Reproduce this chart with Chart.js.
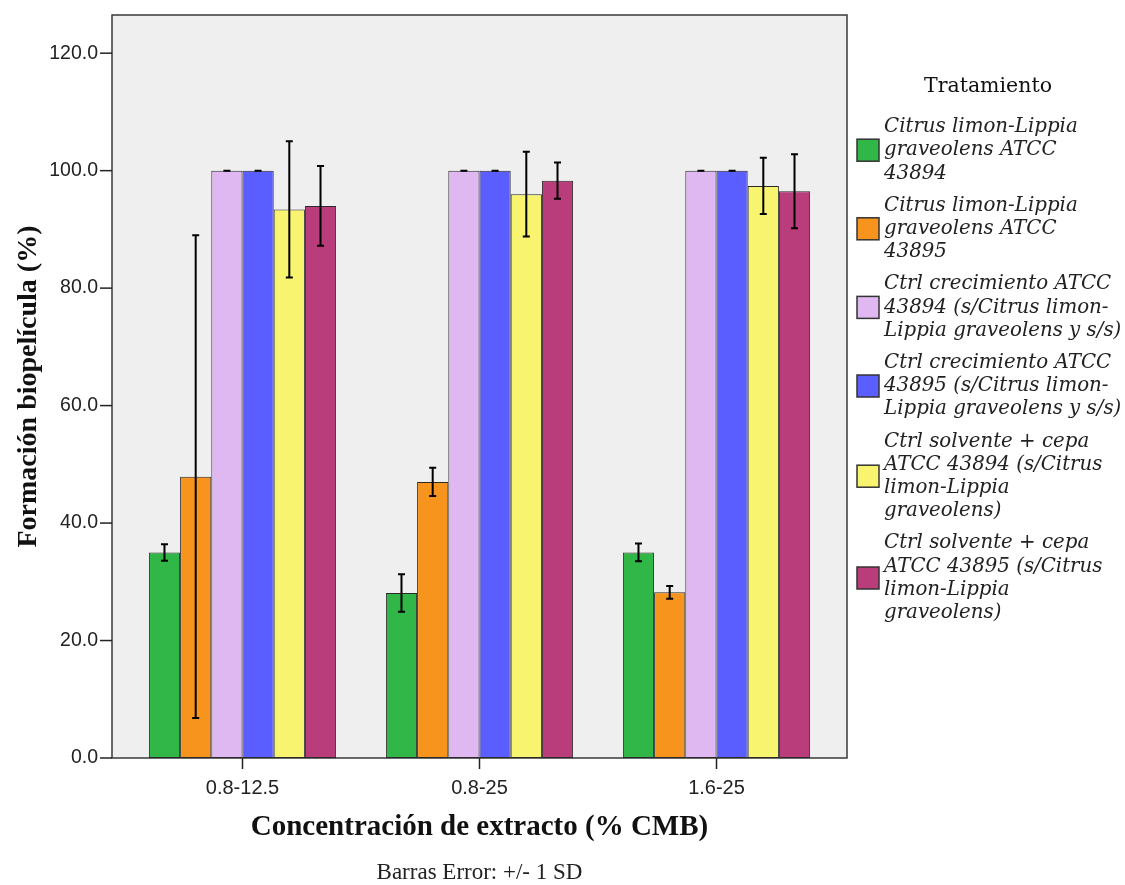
<!DOCTYPE html>
<html>
<head>
<meta charset="utf-8">
<script src="https://cdn.jsdelivr.net/npm/chart.js@4"></script>
<style>
  body { margin: 0; background: #fff; }
  #wrap { width: 1125px; height: 885px; }
</style>
</head>
<body>
<div id="wrap"><canvas id="biofilmChart" width="1125" height="885"></canvas></div>
<script>
// categories (x axis)
const concentraciones = ['0.8-12.5', '0.8-25', '1.6-25'];

// series names, split the way the legend wraps them
const seriesNames = [
    ['Citrus limon-Lippia', 'graveolens ATCC', '43894'],
    ['Citrus limon-Lippia', 'graveolens ATCC', '43895'],
    ['Ctrl crecimiento ATCC', '43894 (s/Citrus limon-', 'Lippia graveolens y s/s)'],
    ['Ctrl crecimiento ATCC', '43895 (s/Citrus limon-', 'Lippia graveolens y s/s)'],
    ['Ctrl solvente + cepa', 'ATCC 43894 (s/Citrus', 'limon-Lippia', 'graveolens)'],
    ['Ctrl solvente + cepa', 'ATCC 43895 (s/Citrus', 'limon-Lippia', 'graveolens)']
];

// means (%)
const clLg43894 = [35.0, 28.1, 35.0];
const clLg43895 = [47.9, 47.0, 28.2];
const ctrlCrec43894 = [100.0, 100.0, 100.0];
const ctrlCrec43895 = [100.0, 100.0, 100.0];
const ctrlSolv43894 = [93.4, 96.0, 97.4];
const ctrlSolv43895 = [94.0, 98.3, 96.5];

// +/- 1 SD
const sdClLg43894 = [1.4, 3.2, 1.5];
const sdClLg43895 = [41.1, 2.4, 1.1];
const sdCtrlCrec43894 = [0, 0, 0];
const sdCtrlCrec43895 = [0, 0, 0];
const sdCtrlSolv43894 = [11.6, 7.2, 4.8];
const sdCtrlSolv43895 = [6.8, 3.1, 6.3];

const yTicks = [0, 20, 40, 60, 80, 100, 120];

const colors = ['#30b748', '#f7941e', '#dfb8f1', '#5b5eff', '#f9f46f', '#b93d7a'];
const allMeans = [clLg43894, clLg43895, ctrlCrec43894, ctrlCrec43895, ctrlSolv43894, ctrlSolv43895];
const allSd = [sdClLg43894, sdClLg43895, sdCtrlCrec43894, sdCtrlCrec43895, sdCtrlSolv43894, sdCtrlSolv43895];

const datasets = allMeans.map((vals, i) => ({
    label: seriesNames[i].join(' '),
    data: vals,
    sd: allSd[i],
    backgroundColor: colors[i],
    borderColor: '#2a2a2a',
    borderWidth: 1,
    borderSkipped: false,
    categoryPercentage: 0.79,
    barPercentage: 1.0
}));

const FRAME_PAD = 12;

// grey plot box, frame and tick marks
const plotFrame = {
    id: 'plotFrame',
    beforeDatasetsDraw(chart) {
        const {ctx, chartArea: a, scales} = chart;
        const left = a.left - FRAME_PAD, right = a.right + FRAME_PAD;
        ctx.save();
        ctx.fillStyle = '#efefef';
        ctx.fillRect(left, a.top, right - left, a.bottom - a.top);
        ctx.strokeStyle = '#3a3a3a';
        ctx.lineWidth = 1.5;
        ctx.strokeRect(left, a.top, right - left, a.bottom - a.top);
        ctx.strokeStyle = '#222';
        yTicks.forEach(v => {
            const y = scales.y.getPixelForValue(v);
            ctx.beginPath();
            ctx.moveTo(left - 12, y);
            ctx.lineTo(left, y);
            ctx.stroke();
        });
        concentraciones.forEach((c, i) => {
            const x = scales.x.getPixelForValue(i);
            ctx.beginPath();
            ctx.moveTo(x, a.bottom);
            ctx.lineTo(x, a.bottom + 11);
            ctx.stroke();
        });
        ctx.restore();
    }
};

// +/- 1 SD whiskers
const errorBars = {
    id: 'errorBars',
    afterDatasetsDraw(chart) {
        const {ctx, scales} = chart;
        ctx.save();
        ctx.strokeStyle = '#000';
        ctx.lineWidth = 2;
        chart.data.datasets.forEach((ds, di) => {
            const meta = chart.getDatasetMeta(di);
            meta.data.forEach((bar, i) => {
                const m = ds.data[i], s = ds.sd[i];
                const yTop = scales.y.getPixelForValue(m + s);
                const yBot = scales.y.getPixelForValue(m - s);
                const x = bar.x;
                ctx.beginPath();
                ctx.moveTo(x, yTop);
                ctx.lineTo(x, yBot);
                ctx.moveTo(x - 3.5, yTop);
                ctx.lineTo(x + 3.5, yTop);
                ctx.moveTo(x - 3.5, yBot);
                ctx.lineTo(x + 3.5, yBot);
                ctx.stroke();
            });
        });
        ctx.restore();
    }
};

// legend with wrapped italic names + footer note
const sideLegend = {
    id: 'sideLegend',
    afterDraw(chart) {
        const {ctx, chartArea: a} = chart;
        ctx.save();
        ctx.fillStyle = '#111';
        ctx.textAlign = 'center';
        ctx.textBaseline = 'middle';
        ctx.font = '20.5px "DejaVu Serif", serif';
        ctx.fillText('Tratamiento', 988, 87);

        const lineH = 23.2;
        let y = 127;
        ctx.textAlign = 'left';
        ctx.font = 'italic 19.8px "DejaVu Serif", serif';
        seriesNames.forEach((lines, i) => {
            const mid = y + (lines.length - 1) * lineH / 2;
            ctx.fillStyle = colors[i];
            ctx.fillRect(857, mid - 11, 22, 22);
            ctx.strokeStyle = '#333';
            ctx.lineWidth = 1.5;
            ctx.strokeRect(857, mid - 11, 22, 22);
            ctx.fillStyle = '#222';
            lines.forEach((t, k) => ctx.fillText(t, 884, y + k * lineH));
            y += lines.length * lineH + 9;
        });

        ctx.textAlign = 'center';
        ctx.font = '23px "Liberation Serif", serif';
        ctx.fillText('Barras Error: +/- 1 SD', (a.left + a.right) / 2, 873);
        ctx.restore();
    }
};

const ctx = document.getElementById('biofilmChart').getContext('2d');
const biofilmChart = new Chart(ctx, {
    type: 'bar',
    data: {
        labels: concentraciones,
        datasets: datasets
    },
    options: {
        responsive: false,
        animation: false,
        layout: {
            padding: {top: 15, right: 290, left: 0, bottom: 0}
        },
        plugins: {
            legend: {display: false},
            tooltip: {enabled: false}
        },
        scales: {
            x: {
                grid: {display: false, drawTicks: false},
                border: {display: false},
                ticks: {
                    padding: 18,
                    color: '#222',
                    font: {family: '"Liberation Sans", Arial, sans-serif', size: 20}
                },
                title: {
                    display: true,
                    text: 'Concentración de extracto (% CMB)',
                    color: '#111',
                    font: {family: '"Liberation Serif", serif', size: 29, weight: 'bold'},
                    padding: {top: 40, bottom: 40}
                },
                afterFit(scale) {
                    scale.height = 127;
                    scale.paddingLeft = 0;
                    scale.paddingRight = 0;
                }
            },
            y: {
                min: 0,
                max: 126.5,
                grid: {display: false, drawTicks: false},
                border: {display: false},
                ticks: {
                    stepSize: 20,
                    includeBounds: false,
                    padding: 26,
                    color: '#222',
                    font: {family: '"Liberation Sans", Arial, sans-serif', size: 19.5},
                    callback: v => v.toFixed(1)
                },
                title: {
                    display: true,
                    text: 'Formación biopelícula (%)',
                    color: '#111',
                    font: {family: '"Liberation Serif", serif', size: 28, weight: 'bold'},
                    padding: {top: 12, bottom: 12}
                },
                afterFit(scale) {
                    scale.width = 124;
                    scale.paddingTop = 0;
                    scale.paddingBottom = 0;
                }
            }
        }
    },
    plugins: [plotFrame, errorBars, sideLegend]
});
</script>
</body>
</html>
